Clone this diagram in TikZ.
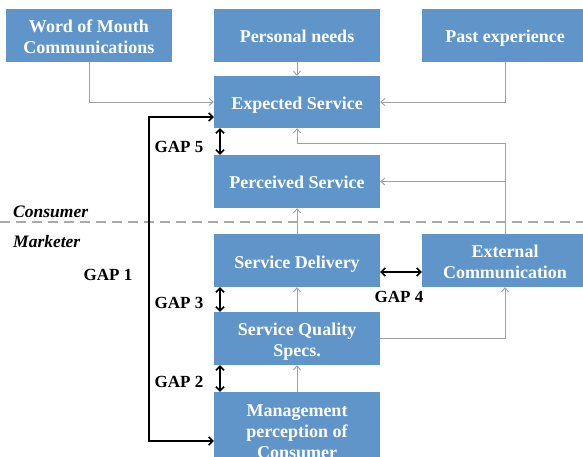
\documentclass[tikz,border=0pt]{standalone}
\usepackage{fontspec}
\setmainfont{Liberation Serif}
\usetikzlibrary{arrows.meta,calc}
\definecolor{boxblue}{RGB}{96,149,201}
\definecolor{linegray}{RGB}{160,160,160}
\definecolor{dashgray}{RGB}{170,170,170}
\tikzset{
  blk/.style={fill=boxblue, draw=none, text=white, minimum width=166pt, minimum height=53pt,
    align=center, font=\fontsize{18}{21}\selectfont\bfseries, inner sep=0pt},
  one/.style={text height=15pt, text depth=0pt},
  two/.style={text height=35.8pt, text depth=0pt},
  flow/.style={draw=linegray, line width=0.9pt, -{Straight Barb[length=4pt,width=7pt]}},
  gaparrow/.style={draw=black, line width=1.6pt, {Straight Barb[length=4pt,width=8pt]}-{Straight Barb[length=4pt,width=8pt]}},
  gaplbl/.style={font=\fontsize{17}{20}\selectfont\bfseries, inner sep=0pt},
  sidelbl/.style={font=\fontsize{17.5}{19}\selectfont\bfseries\itshape, inner sep=0pt, anchor=west}
}
\begin{document}
\begin{tikzpicture}[x=1pt,y=-1pt]
\useasboundingbox (0,0) rectangle (583,457);
\clip (0,0) rectangle (583,457);
% boxes
\node[blk, two] (wom) at (89,35.5) {Word of Mouth\\Communications};
\node[blk, one] (pn) at (297,35.5) {Personal needs};
\node[blk, one] (pe) at (505,35.5) {Past experience};
\node[blk, one, minimum height=52pt] (es) at (297,102) {Expected Service};
\node[blk, one] (ps) at (297,181.5) {Perceived Service};
\node[blk, one] (sd) at (297,260.5) {Service Delivery};
\node[blk, two] (ec) at (505,260.5) {External\\Communication};
\node[blk, two] (sq) at (297,338.5) {Service Quality\\Specs.};
\node[blk, minimum height=80pt] (mp) at (297,432) {Management\\perception of\\Consumer};
% divider
\draw[dashgray, line width=2pt, dash pattern=on 10pt off 6pt] (0,222) -- (583,222);
\node[sidelbl] (cons) at (13,212) {Consumer};
\node[sidelbl] (mark) at (13,242) {Marketer};
% gray flows
\draw[flow] (wom.south) |- (es.west);
\draw[flow] (pn.south) -- (es.north);
\draw[flow] (pe.south) |- (es.east);
\coordinate (j1) at (505,143);
\draw[flow] (ec.north) -- (j1) -| (es.south);
\draw[flow] (ec.north |- ps.east) -- (ps.east);
\draw[flow] (sd.north) -- (ps.south);
\draw[flow] (sq.north) -- (sd.south);
\draw[flow] (mp.north) -- (sq.south);
\draw[flow] (sq.east) -| (ec.south);
% gaps
\coordinate (gx) at (220,0);
\draw[gaparrow] (gx |- es.south) -- (gx |- ps.north);
\draw[gaparrow] (gx |- sd.south) -- (gx |- sq.north);
\draw[gaparrow] (gx |- sq.south) -- (gx |- mp.north);
\coordinate (g4y) at (0,272);
\draw[gaparrow] (sd.east |- g4y) -- (ec.west |- g4y);
\coordinate (g1t) at (149,117);
\coordinate (g1b) at (149,441);
\draw[gaparrow] (es.west |- g1t) -- (g1t) -- (g1b) -- (mp.west |- g1b);
\node[gaplbl] (gap5) at (179,147) {GAP 5};
\node[gaplbl] (gap3) at (179,303) {GAP 3};
\node[gaplbl] (gap2) at (179,382) {GAP 2};
\node[gaplbl] (gap4) at (399,297) {GAP 4};
\node[gaplbl] (gap1) at (108,275) {GAP 1};
\end{tikzpicture}
\end{document}
